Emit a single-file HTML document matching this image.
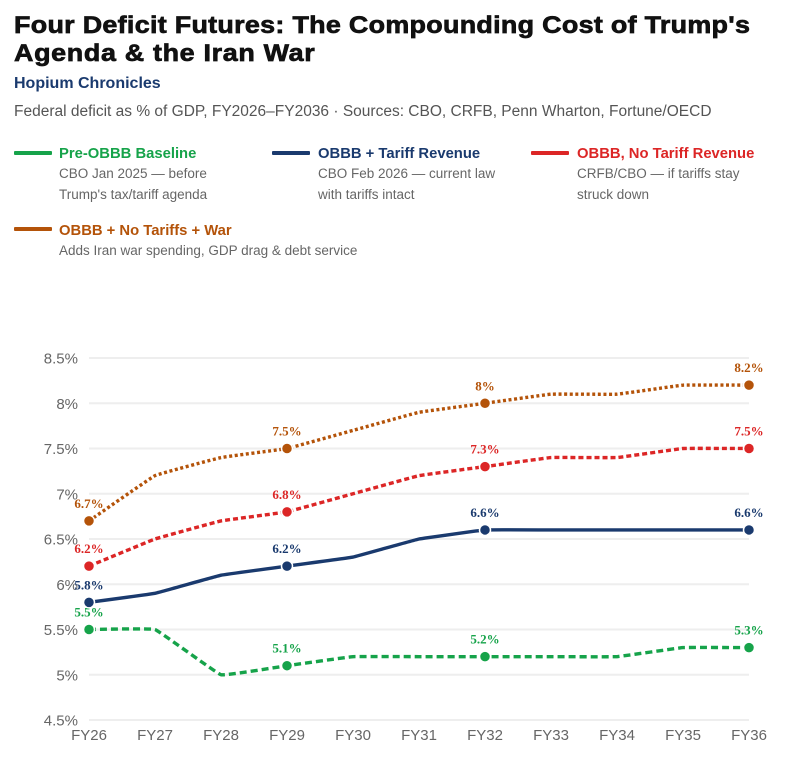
<!DOCTYPE html>
<html lang="en"><head><meta charset="utf-8"><title>Four Deficit Futures</title>
<style>
html,body{margin:0;padding:0;background:#fff}
body{width:790px;height:759px;position:relative;overflow:hidden;font-family:"Liberation Sans",sans-serif}
.abs{position:absolute;white-space:nowrap}
.title{left:14px;font-size:24px;font-weight:bold;color:#111;-webkit-text-stroke:.7px #111;line-height:30px;transform:scaleX(1.12);transform-origin:0 0}
.swatch{position:absolute;width:38px;height:4px;border-radius:1px}
.lname{font-size:14.8px;font-weight:bold;line-height:18px}
.ldesc{font-size:13.5px;color:#666;line-height:21px}
svg{position:absolute;left:0;top:0}
</style></head><body>
<div class="abs title" style="top:11px;letter-spacing:.27px">Four Deficit Futures: The Compounding Cost of Trump's</div>
<div class="abs title" style="top:39px;letter-spacing:.6px">Agenda &amp; the Iran War</div>
<div class="abs" style="left:14px;top:75px;font-size:16px;font-weight:bold;color:#1a3a6e;line-height:18px">Hopium Chronicles</div>
<div class="abs" style="left:14px;top:102px;font-size:15.5px;color:#555;line-height:20px">Federal deficit as % of GDP, FY2026–FY2036 · Sources: CBO, CRFB, Penn Wharton, Fortune/OECD</div>

<div class="swatch" style="left:14px;top:151px;background:#16a34a"></div>
<div class="abs lname" style="left:59px;top:145px;color:#16a34a">Pre-OBBB Baseline</div>
<div class="abs ldesc" style="left:59px;top:163px">CBO Jan 2025 — before<br>Trump's tax/tariff agenda</div>

<div class="swatch" style="left:272px;top:151px;background:#1a3a6e"></div>
<div class="abs lname" style="left:318px;top:145px;color:#1a3a6e">OBBB + Tariff Revenue</div>
<div class="abs ldesc" style="left:318px;top:163px">CBO Feb 2026 — current law<br>with tariffs intact</div>

<div class="swatch" style="left:531px;top:151px;background:#dc2626"></div>
<div class="abs lname" style="left:577px;top:145px;color:#dc2626">OBBB, No Tariff Revenue</div>
<div class="abs ldesc" style="left:577px;top:163px">CRFB/CBO — if tariffs stay<br>struck down</div>

<div class="swatch" style="left:14px;top:227px;background:#b45309"></div>
<div class="abs lname" style="left:59px;top:222px;color:#b45309">OBBB + No Tariffs + War</div>
<div class="abs ldesc" style="left:59px;top:240px">Adds Iran war spending, GDP drag &amp; debt service</div>

<svg id="chart" width="790" height="759" viewBox="0 0 790 759"></svg>
<script>
const categories = ["FY26","FY27","FY28","FY29","FY30","FY31","FY32","FY33","FY34","FY35","FY36"];
const yTicks = [4.5,5,5.5,6,6.5,7,7.5,8,8.5];
const baselineValues = [5.5,5.5,5.0,5.1,5.2,5.2,5.2,5.2,5.2,5.3,5.3];
const tariffValues = [5.8,5.9,6.1,6.2,6.3,6.5,6.6,6.6,6.6,6.6,6.6];
const noTariffValues = [6.2,6.5,6.7,6.8,7.0,7.2,7.3,7.4,7.4,7.5,7.5];
const warValues = [6.7,7.2,7.4,7.5,7.7,7.9,8.0,8.1,8.1,8.2,8.2];
const labelledIndexes = [0,3,6,10];

const NS = "http://www.w3.org/2000/svg";
const svg = document.getElementById("chart");
const X0 = 89, X1 = 749, Y0 = 720, Y1 = 358;
function xAt(i){ return X0 + (X1 - X0) * i / (categories.length - 1); }
function yAt(v){ return Y0 - (Y0 - Y1) * (v - 4.5) / 4; }
function make(tag, attrs){
  const el = document.createElementNS(NS, tag);
  for (const k in attrs) el.setAttribute(k, attrs[k]);
  return el;
}
yTicks.forEach(function(t){
  const line = make("line", {x1:X0, x2:X1, y1:yAt(t), y2:yAt(t), stroke:"#eeeeee", "stroke-width":2});
  
  
  svg.appendChild(line);
  const label = make("text", {x:78, y:yAt(t)+5.5, "text-anchor":"end", "font-size":15, fill:"#666", "font-family":"Liberation Sans, sans-serif"});
  label.textContent = t + "%";
  
  
  svg.appendChild(label);
});
categories.forEach(function(c, i){
  const label = make("text", {x:xAt(i), y:740, "text-anchor":"middle", "font-size":15, fill:"#666", "font-family":"Liberation Sans, sans-serif"});
  label.textContent = c;
  
  
  svg.appendChild(label);
});
function linePath(values){
  const pts = values.map(function(v, i){ return [xAt(i), yAt(v)]; });
  const t = 0.03;
  let d = "M" + pts[0][0] + " " + pts[0][1];
  for (let i = 0; i < pts.length - 1; i++){
    const p0 = pts[Math.max(i-1,0)], p1 = pts[i], p2 = pts[i+1], p3 = pts[Math.min(i+2,pts.length-1)];
    d += " C" + (p1[0]+(p2[0]-p0[0])*t) + " " + (p1[1]+(p2[1]-p0[1])*t) + " " + (p2[0]-(p3[0]-p1[0])*t) + " " + (p2[1]-(p3[1]-p1[1])*t) + " " + p2[0] + " " + p2[1];
  }
  return d;
}
function drawSeries(values, color, dash, name){
  const path = make("path", {d:linePath(values), fill:"none", stroke:color, "stroke-width":3.4, "stroke-dasharray":dash});
  
  
  svg.appendChild(path);
  labelledIndexes.forEach(function(i){
    const dot = make("circle", {cx:xAt(i), cy:yAt(values[i]), r:5.5, fill:color, stroke:"#fff", "stroke-width":1.5});
    
    
    svg.appendChild(dot);
    const label = make("text", {x:xAt(i), y:yAt(values[i])-13, "text-anchor":"middle", "font-size":13, "font-weight":"bold", fill:color, "font-family":"Liberation Serif, serif"});
    label.textContent = values[i] + "%";
    
    
    svg.appendChild(label);
  });
}
drawSeries(baselineValues, "#16a34a", "7 4", "baseline");
drawSeries(warValues, "#b45309", "3 2.6", "war");
drawSeries(noTariffValues, "#dc2626", "5 3", "no-tariff");
drawSeries(tariffValues, "#1a3a6e", "", "tariff");
</script>
</body></html>
